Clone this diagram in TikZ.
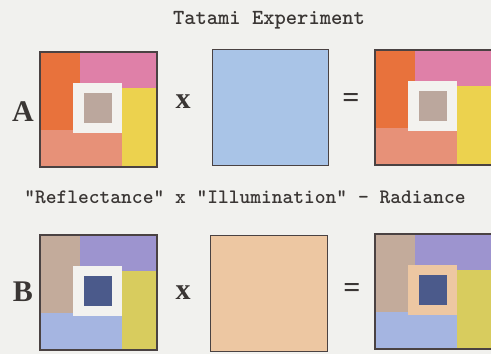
\documentclass[tikz,border=0pt]{standalone}
\usepackage{fontspec}
\newfontfamily\boldserif{Liberation Serif}
\usetikzlibrary{positioning}
\definecolor{paper}{HTML}{F1F1EE}
\definecolor{ink}{HTML}{3A3634}
\definecolor{edge}{HTML}{4A4242}
\definecolor{orng}{HTML}{E8723C}
\definecolor{pinkish}{HTML}{DF80A8}
\definecolor{yelw}{HTML}{ECD24E}
\definecolor{salmon}{HTML}{E79178}
\definecolor{greyish}{HTML}{BBA79D}
\definecolor{whitish}{HTML}{F3F2EF}
\definecolor{skyblue}{HTML}{A9C4E7}
\definecolor{tan}{HTML}{C3AB9B}
\definecolor{lilac}{HTML}{9D94CF}
\definecolor{olive}{HTML}{D8CC5E}
\definecolor{paleblue}{HTML}{A5B5E1}
\definecolor{inkblue}{HTML}{4B5A8B}
\definecolor{peach}{HTML}{EDC7A2}
\tikzset{
  frame/.style={draw=edge,line width=1.4pt},
  caption/.style={font=\ttfamily\bfseries\fontsize{20.5}{20.5}\selectfont,text=ink},
  sign/.style={font=\boldserif\bfseries\fontsize{30}{30}\selectfont,text=ink},
  % one patterned square: left, top, right, bottom, surround, centre
  pics/tatami/.style n args={6}{code={
    \fill[#1] (0,0) rectangle (40,78);
    \fill[#2] (40,0) rectangle (117,36);
    \fill[#3] (82,36) rectangle (117,115);
    \fill[#4] (0,78) rectangle (82,115);
    \fill[#5] (33,31) rectangle (82,81);
    \fill[#6] (44,41) rectangle (72,71);
    \draw[frame] (0,0) rectangle (117,115);
  }},
}
\begin{document}
\begin{tikzpicture}[x=1pt,y=-1pt]
  \fill[paper] (0,0) rectangle (491,354);
  \useasboundingbox (0,0) rectangle (491,354);
  \node[caption,font=\ttfamily\bfseries\fontsize{21.5}{21.5}\selectfont] (title) at (269,20) {Tatami Experiment};
  % row A
  \node[sign] (labA) at (23,112) {A};
  \pic at (40,52) {tatami={orng}{pinkish}{yelw}{salmon}{whitish}{greyish}};
  \node[sign] (timesA) at (183,102) {x};
  \node[frame,fill=skyblue,minimum width=116pt,minimum height=116pt,anchor=north west] (illA) at (212,49) {};
  \node[sign] (eqA) at (351,100) {=};
  \pic at (375,50) {tatami={orng}{pinkish}{yelw}{salmon}{whitish}{greyish}};
  % legend line
  \node[caption] (legend) at (245,197) {"Reflectance" x "Illumination" - Radiance};
  % row B
  \node[sign] (labB) at (23,292) {B};
  \pic at (40,235) {tatami={tan}{lilac}{olive}{paleblue}{whitish}{inkblue}};
  \node[sign] (timesB) at (183,293) {x};
  \node[frame,fill=peach,minimum width=117pt,minimum height=116pt,anchor=north west] (illB) at (210,235) {};
  \node[sign] (eqB) at (352,290) {=};
  \pic at (375,234) {tatami={tan}{lilac}{olive}{paleblue}{peach}{inkblue}};
\end{tikzpicture}
\end{document}
